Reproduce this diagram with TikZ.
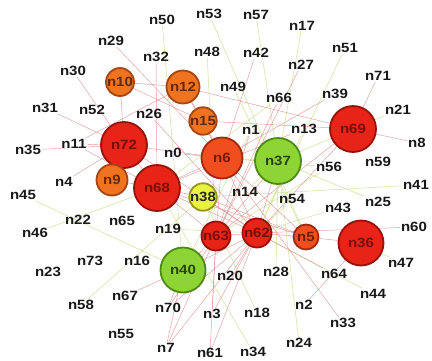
\documentclass[tikz,border=0pt]{standalone}
\usepackage{fontspec}
\newfontfamily\labfont{Liberation Sans Bold}[FakeStretch=1.12]
\def\lbf{\labfont\fontsize{13.4}{15}\selectfont}
\definecolor{fred}{RGB}{232,36,24}
\definecolor{bred}{RGB}{150,18,10}
\definecolor{ford}{RGB}{240,78,30}
\definecolor{bord}{RGB}{160,40,15}
\definecolor{fora}{RGB}{240,116,32}
\definecolor{bora}{RGB}{165,70,18}
\definecolor{fyel}{RGB}{232,242,64}
\definecolor{byel}{RGB}{150,150,30}
\definecolor{fgrn}{RGB}{142,212,52}
\definecolor{bgrn}{RGB}{78,138,22}
\definecolor{ered}{RGB}{220,140,140}
\definecolor{egrn}{RGB}{200,225,140}
\pgfdeclarelayer{bg}
\pgfsetlayers{bg,main}
\tikzset{
  lab/.style={font=\lbf, inner sep=1pt, text=black!90},
  cn/.style={circle, inner sep=0pt, line width=1.8pt, font=\lbf},
  cred/.style={cn, fill=fred, draw=bred, text=bred!80!black},
  cord/.style={cn, fill=ford, draw=bord, text=bord!70!black},
  cora/.style={cn, fill=fora, draw=bora, text=bora!60!black},
  cyel/.style={cn, fill=fyel, draw=byel, text=black!85},
  cgrn/.style={cn, fill=fgrn, draw=bgrn, text=bgrn!50!black},
  er/.style={draw=ered, line width=0.45pt, opacity=0.85},
  eg/.style={draw=egrn, line width=0.5pt, opacity=0.9},
}
\begin{document}
\begin{tikzpicture}[x=1pt,y=-1pt]
\useasboundingbox (0,0) rectangle (432,360);
% circle nodes
\node[cora, minimum size=28pt] (n10) at (120,82) {n10};
\node[cora, minimum size=33pt] (n12) at (183,87) {n12};
\node[cora, minimum size=25pt] (n15) at (203,121) {n15};
\node[cred, minimum size=46pt] (n69) at (353,129) {n69};
\node[cred, minimum size=46pt] (n72) at (124,145) {n72};
\node[cord, minimum size=41pt] (n6) at (222,158) {n6};
\node[cgrn, minimum size=46pt] (n37) at (278,161) {n37};
\node[cora, minimum size=31pt] (n9) at (112,180) {n9};
\node[cred, minimum size=46pt] (n68) at (157,188) {n68};
\node[cyel, minimum size=27pt] (n38) at (203,197) {n38};
\node[cred, minimum size=29pt] (n63) at (216,236) {n63};
\node[cred, minimum size=29pt] (n62) at (257,233) {n62};
\node[cord, minimum size=25pt] (n5) at (306,237) {n5};
\node[cred, minimum size=45pt] (n36) at (361,243) {n36};
\node[cgrn, minimum size=45pt] (n40) at (183,270) {n40};
% label nodes
\foreach \n/\x/\y in {n50/162/20, n53/209/14, n57/256/15, n17/302/26, n29/111/41,
  n48/207/52, n42/256/53, n51/345/48, n32/156/57, n27/301/65, n30/73/71, n71/378/76,
  n49/233/87, n66/279/98, n39/335/94, n31/45/108, n52/92/110, n26/149/114, n21/398/110,
  n1/251/130, n13/304/129, n11/74/144, n35/28/150, n0/173/153, n8/417/143, n56/329/167,
  n59/378/162, n4/64/182, n14/245/192, n41/416/185, n54/292/199, n25/378/202, n45/23/195,
  n22/78/220, n65/122/221, n43/338/208, n19/168/229, n46/35/233, n60/414/227, n73/90/261,
  n16/137/261, n23/48/272, n20/230/276, n28/276/272, n64/334/274, n47/401/263, n44/373/294,
  n67/125/296, n58/81/305, n70/168/308, n3/212/314, n18/257/313, n2/304/305, n33/343/323,
  n55/121/334, n24/299/343, n7/166/348, n61/210/353, n34/253/352}
  {\node[lab] (\n) at (\x,\y) {\n};}
% edges
\begin{pgfonlayer}{bg}
\fill[white] (0,0) rectangle (432,360);
\foreach \a/\b in {n50/n40, n48/n63, n53/n5, n57/n37, n17/n37, n51/n62, n21/n69, n41/n38,
  n25/n37, n43/n62, n47/n36, n44/n62, n24/n37, n28/n37, n34/n68, n18/n38, n58/n38, n45/n40,
  n46/n68, n49/n5, n56/n6, n54/n62, n37/n6, n37/n69, n19/n62, n66/n68, n13/n62, n56/n63,
  n14/n37, n1/n40}
  {\draw[eg] (\a) -- (\b);}
\foreach \a/\b in {n29/n6, n32/n68, n30/n72, n31/n72, n35/n72, n11/n72, n72/n10, n10/n12,
  n10/n15, n12/n15, n15/n6, n12/n6, n72/n6, n72/n68, n72/n9, n9/n68, n4/n72, n11/n12,
  n11/n68, n68/n6, n68/n38, n68/n63, n68/n62, n6/n63, n6/n62, n6/n5, n38/n62, n63/n62,
  n62/n5, n5/n36, n62/n60, n62/n64, n36/n2, n6/n33, n69/n71, n69/n8, n69/n62, n69/n63,
  n42/n6, n27/n63, n39/n6, n66/n63, n1/n63, n13/n68, n12/n69, n15/n69, n62/n20, n62/n3,
  n62/n61, n62/n70, n62/n7, n63/n7, n63/n70, n63/n61, n63/n3, n40/n70, n40/n7, n40/n67,
  n40/n62, n40/n63, n37/n63, n37/n62, n0/n6, n26/n62, n38/n5, n68/n5, n72/n62}
  {\draw[er] (\a) -- (\b);}
\end{pgfonlayer}
\end{tikzpicture}
\end{document}
